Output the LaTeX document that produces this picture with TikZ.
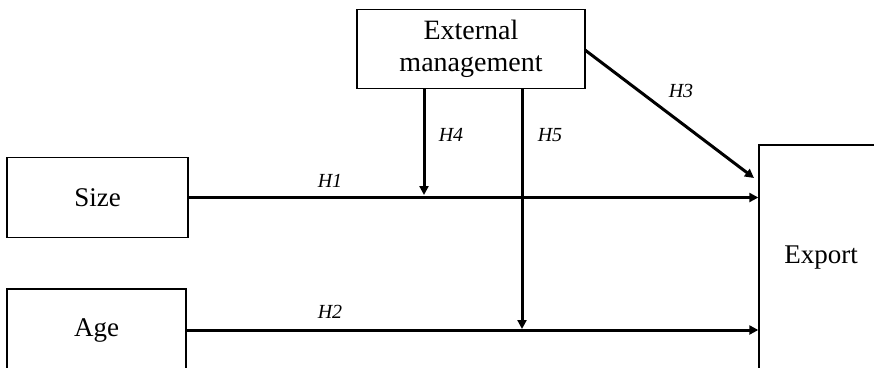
\documentclass[tikz,border=0pt]{standalone}
\usepackage{fontspec}
\setmainfont{Liberation Serif}
\usetikzlibrary{arrows.meta}
\begin{document}
\begin{tikzpicture}[x=1pt,y=-1pt,
  box/.style={draw,line width=1.4pt,inner sep=0pt,font=\fontsize{27}{32}\selectfont,align=center},
  link/.style={line width=3pt,-{Triangle[length=9pt,width=9pt]}},
  lab/.style={font=\fontsize{20}{22}\selectfont\itshape,inner sep=0pt}]
\useasboundingbox (0,0) rectangle (874,367);
\node[box,minimum width=181pt,minimum height=80pt] (size) at (97.5,197.5) {Size};
\node[box,minimum width=179pt,minimum height=82pt] (age) at (96.5,330) {Age};
\node[box,minimum width=228pt,minimum height=79pt,font=\fontsize{28}{32}\selectfont] (ext) at (471,49) {External\\management};
\node[box,minimum width=124pt,minimum height=226pt] (exp) at (821,258) {Export};
\coordinate (h4s) at (424,88);
\coordinate (h4e) at (424,195);
\coordinate (h5s) at (522,88);
\coordinate (h5e) at (522,329);
\coordinate (h3s) at (585,50);
\coordinate (h3e) at (754,178);
\draw[link] (size.east) -- (size.east -| exp.west);
\draw[link] (age.east) -- (age.east -| exp.west);
\draw[link] (h4s) -- (h4e);
\draw[link] (h5s) -- (h5e);
\draw[link] (h3s) -- (h3e);
\node[lab] (l1) at (330,181) {H1};
\node[lab] (l2) at (330,312) {H2};
\node[lab] (l3) at (681,91) {H3};
\node[lab] (l4) at (451,135) {H4};
\node[lab] (l5) at (550,135) {H5};
\end{tikzpicture}
\end{document}
